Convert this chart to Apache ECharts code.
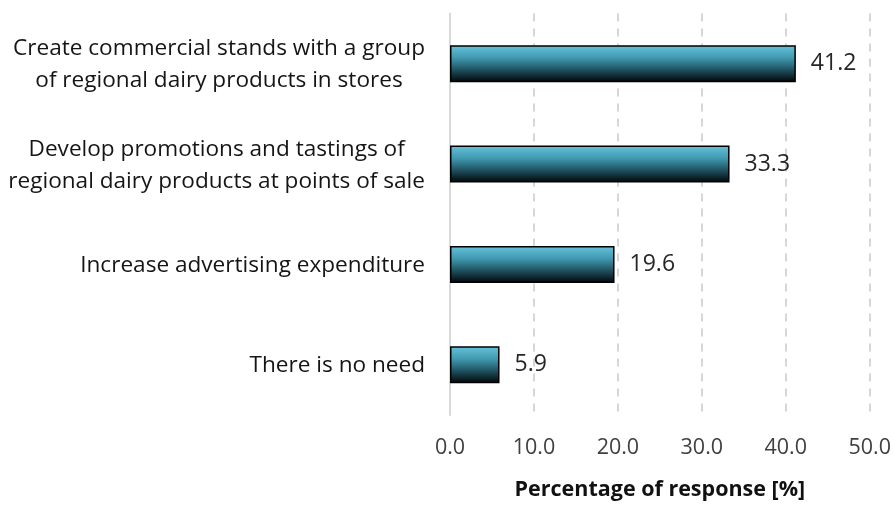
<!DOCTYPE html>
<html>
<head>
<meta charset="utf-8">
<script src="https://cdn.jsdelivr.net/npm/echarts@6/dist/echarts.min.js"></script>
<style>
  html, body { margin: 0; padding: 0; background: #ffffff; }
  #chart { width: 894px; height: 506px; }
</style>
</head>
<body>
<div id="chart"></div>
<script>
// Survey answers, listed bottom-to-top as the category axis draws them
const categories = [
  'There is no need',
  'Increase advertising expenditure',
  'Develop promotions and tastings of\nregional dairy products at points of sale',
  'Create commercial stands with a group\nof regional dairy products in stores'
];
const responseShare = [5.9, 19.6, 33.3, 41.2];
const xTicks = { min: 0, max: 50, interval: 10 };
const xAxisTitle = 'Percentage of response [%]';

const FONT = '"Open Sans", Lato, sans-serif';

const barFill = new echarts.graphic.LinearGradient(0, 0, 0, 1, [
  { offset: 0, color: '#66c3dc' },
  { offset: 0.35, color: '#3f98ae' },
  { offset: 0.7, color: '#1c4956' },
  { offset: 1, color: '#010507' }
]);

const chart = echarts.init(document.getElementById('chart'), null, { renderer: 'canvas' });

chart.setOption({
  animation: false,
  backgroundColor: '#ffffff',
  grid: { left: 450, right: 23, top: 13.5, bottom: 86.5 },
  xAxis: {
    type: 'value',
    min: xTicks.min,
    max: xTicks.max,
    interval: xTicks.interval,
    name: xAxisTitle,
    nameLocation: 'middle',
    nameGap: 64,
    nameTextStyle: { fontFamily: FONT, fontSize: 21.5, fontWeight: 'bold', color: '#111111' },
    axisLine: { show: false },
    axisTick: { show: false },
    axisLabel: {
      margin: 22,
      fontFamily: FONT,
      fontSize: 21.5,
      color: '#404040',
      formatter: v => v.toFixed(1)
    },
    splitLine: {
      show: true,
      lineStyle: { color: '#d6d6d6', width: 2, type: [8, 7] }
    }
  },
  yAxis: {
    type: 'category',
    data: categories,
    axisLine: { show: true, lineStyle: { color: '#d9d9d9', width: 2 } },
    axisTick: { show: false },
    axisLabel: {
      margin: 25,
      fontFamily: FONT,
      fontSize: 22.6,
      color: '#151515',
      lineHeight: 32,
      formatter: v => v.split('\n').map(s => '{c|' + s + '}').join('\n'),
      rich: {
        c: {
          align: 'center',
          fontFamily: FONT,
          fontSize: 22.6,
          color: '#151515',
          lineHeight: 32,
          padding: [2, 0, 0, 0]
        }
      }
    },
    splitLine: { show: false }
  },
  series: [{
    type: 'bar',
    data: responseShare,
    barWidth: 37,
    itemStyle: { color: barFill, borderColor: '#000000', borderWidth: 1.5 },
    label: {
      show: true,
      position: 'right',
      distance: 15,
      fontFamily: FONT,
      fontSize: 23,
      color: '#262626',
      formatter: p => p.value.toFixed(1)
    }
  }]
});
</script>
</body>
</html>
